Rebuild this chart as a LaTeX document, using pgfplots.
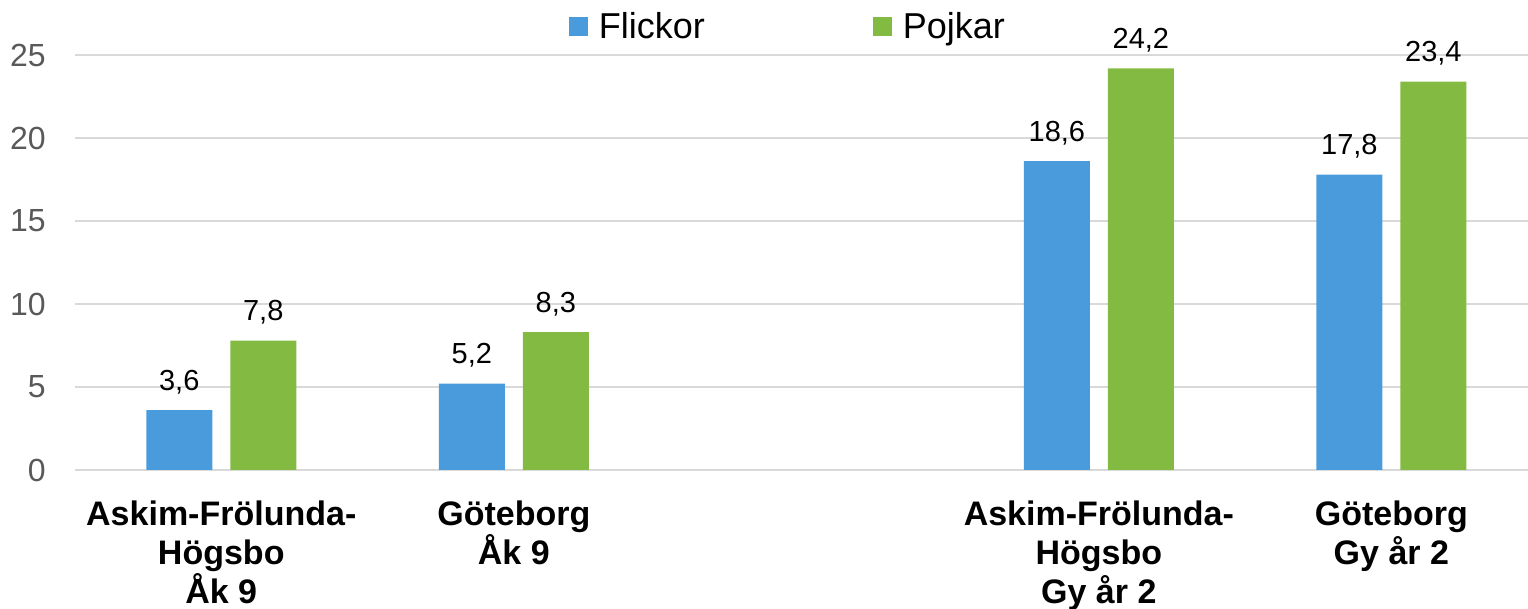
\documentclass[border=0pt]{standalone}
\usepackage{fontspec}
\setmainfont{Liberation Sans}
\usepackage{pgfplots}
\pgfplotsset{compat=1.18}
\definecolor{flick}{RGB}{74,155,220}
\definecolor{pojk}{RGB}{131,187,66}
\definecolor{gridc}{RGB}{217,217,217}
\definecolor{tickc}{RGB}{89,89,89}
\begin{document}
\begin{tikzpicture}
\path[use as bounding box] (-37.5pt,-69.5pt) rectangle (726.5pt,235pt);
\begin{axis}[
  at={(0,0)}, anchor=south west,
  scale only axis,
  width=726.5pt, height=207.5pt,
  ybar, bar width=33pt,
  xmin=-0.5, xmax=4.467,
  ymin=0, ymax=25,
  ytick={0,5,10,15,20,25},
  xtick={0,1,3,4},
  xticklabels={{Askim-Frölunda-\\Högsbo\\Åk 9},{Göteborg\\Åk 9},{Askim-Frölunda-\\Högsbo\\Gy år 2},{Göteborg\\Gy år 2}},
  ymajorgrids, grid style={gridc, line width=1.2pt},
  axis line style={draw=none},
  major tick length=0pt, tick style={draw=none},
  /pgf/number format/assume math mode=true,
  yticklabel style={font=\fontsize{16}{19}\selectfont, text=tickc, inner sep=0pt, xshift=-14.5pt},
  xticklabel style={font=\bfseries\fontsize{17}{19.5}\selectfont, align=center, inner sep=0pt, yshift=-15pt},
  nodes near coords,
  nodes near coords style={font=\fontsize{14.5}{17}\selectfont, text=black, inner sep=0pt, yshift=8pt,
    /pgf/number format/.cd, fixed, fixed zerofill, precision=1, use comma, assume math mode=true},
  clip=false,
  legend columns=2,
  legend image code/.code={\fill[#1] (0pt,-4.75pt) rectangle (9.5pt,4.75pt); \path (13pt,0pt);},
  legend style={draw=none, fill=none, at={(0.49,1)}, anchor=center, yshift=14pt, xshift=1pt,
    font=\fontsize{18}{21}\selectfont, inner sep=0pt,
    /tikz/every even column/.append style={column sep=82pt}},
]
\addplot[fill=flick, draw=none, bar shift=-21pt] coordinates {(0,3.6)(1,5.2)(3,18.6)(4,17.8)};
\addplot[fill=pojk, draw=none, bar shift=21pt] coordinates {(0,7.8)(1,8.3)(3,24.2)(4,23.4)};
\legend{Flickor,Pojkar}
\end{axis}
\end{tikzpicture}
\end{document}
